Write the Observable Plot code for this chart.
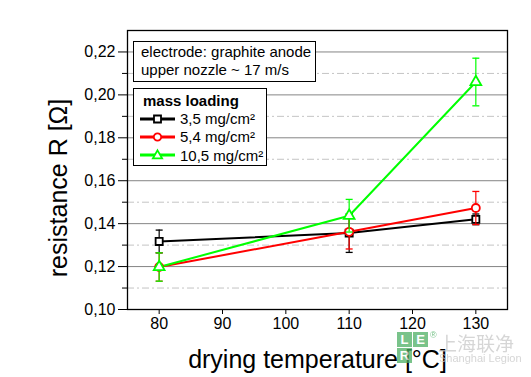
<!DOCTYPE html>
<html><head><meta charset="utf-8">
<script src="https://cdn.jsdelivr.net/npm/d3@7"></script>
<script src="https://cdn.jsdelivr.net/npm/@observablehq/plot@0.6"></script>
<style>
body{margin:0;background:#fff;}
#wrap{position:relative;width:531px;height:377px;font-family:"Liberation Sans",Arial,sans-serif;overflow:hidden;}
#wrap > svg{position:absolute;left:0;top:0;}
.box{position:absolute;background:#fff;border:1.3px solid #000;box-sizing:border-box;font-size:15px;color:#000;}
.row{display:flex;align-items:center;height:18.4px;white-space:nowrap;}
.row svg{flex:none;}
.wm{position:absolute;pointer-events:none;}
</style></head><body><div id="wrap"></div>
<script>
// ---- data ----
const temps = [80, 110, 130];
const seriesNames = ["3,5 mg/cm²", "5,4 mg/cm²", "10,5 mg/cm²"];
const r35  = [0.1317, 0.1356, 0.1420];
const e35  = [0.0053, 0.0090, 0.0025];
const r54  = [0.1198, 0.1362, 0.1473];
const e54  = [0.0066, 0.0080, 0.0077];
const r105 = [0.1198, 0.1437, 0.2060];
const e105 = [0.0066, 0.0076, 0.0111];
const seriesColors = ["#000000", "#ff0000", "#00ff00"];
const seriesSymbols = ["square", "circle", "triangle"];
const xTicks = [80, 90, 100, 110, 120, 130];
const yMajor = [0.10, 0.12, 0.14, 0.16, 0.18, 0.20, 0.22];
const yMinor = [0.11, 0.13, 0.15, 0.17, 0.19, 0.21];
const xLabel = "drying temperature [°C]";
const yLabel = "resistance R [Ω]";
const noteLines = ["electrode: graphite anode", "upper nozzle ~ 17 m/s"];
const legendTitle = "mass loading";

const values = [r35, r54, r105];
const errors = [e35, e54, e105];
const data = [];
values.forEach((vals, s) => vals.forEach((v, i) => data.push({
  series: seriesNames[s], s, t: temps[i], r: v, lo: v - errors[s][i], hi: v + errors[s][i]
})));

const cap = {draw(ctx) { ctx.moveTo(-3.5, 0); ctx.lineTo(3.5, 0); }};
const fmt = d => d.toFixed(2).replace(".", ",");

const marks = [
  Plot.ruleY(yMinor, {stroke: "#c4c4c4", strokeWidth: 1, strokeDasharray: "7,3,2,3"}),
  Plot.ruleY(yMajor.filter(v => v > 0.10), {stroke: "#858585", strokeWidth: 1}),
  Plot.axisY(yMinor, {tickSize: 5, tickFormat: () => "", label: null}),
  Plot.axisY(yMajor, {tickSize: 9, tickPadding: 3, tickFormat: fmt, fontSize: 16, label: null}),
  Plot.axisX(xTicks, {tickSize: 5, tickPadding: 3, fontSize: 16, label: null}),
];
for (let s = 0; s < 3; s++) {
  const d = data.filter(e => e.s === s);
  marks.push(Plot.line(d, {x: "t", y: "r", stroke: seriesColors[s], strokeWidth: 2}));
}
for (let s = 0; s < 3; s++) {
  const d = data.filter(e => e.s === s);
  marks.push(
    Plot.ruleX(d, {x: "t", y1: "lo", y2: "hi", stroke: seriesColors[s], strokeWidth: 1.2}),
    Plot.dot(d, {x: "t", y: "lo", symbol: cap, stroke: seriesColors[s], strokeWidth: 1.3}),
    Plot.dot(d, {x: "t", y: "hi", symbol: cap, stroke: seriesColors[s], strokeWidth: 1.3}),
    Plot.dot(d, {x: "t", y: "r", symbol: seriesSymbols[s], r: 4, fill: "white", stroke: seriesColors[s], strokeWidth: 1.8})
  );
}
marks.push(
  Plot.frame({stroke: "#000", strokeWidth: 1.3}),
  Plot.text([xLabel], {frameAnchor: "bottom", textAnchor: "middle", lineAnchor: "bottom", dy: 58, fontSize: 25, fill: "#000"}),
  Plot.text([yLabel], {frameAnchor: "left", textAnchor: "middle", lineAnchor: "middle", rotate: -90, dx: -69, dy: 18, fontSize: 25, fill: "#000"})
);

const chart = Plot.plot({
  width: 531, height: 377,
  marginLeft: 127, marginRight: 24, marginTop: 30, marginBottom: 68,
  style: {fontFamily: '"Liberation Sans", Arial, sans-serif', color: "#000", background: "white", overflow: "visible"},
  x: {domain: [75, 135]},
  y: {domain: [0.10, 0.23]},
  marks
});
const wrap = document.getElementById("wrap");
wrap.appendChild(chart);

// note box
const b1 = document.createElement("div");
b1.className = "box";
Object.assign(b1.style, {left: "133px", top: "41px", width: "183px", height: "41px", padding: "1px 0 0 7px", lineHeight: "18px"});
b1.innerHTML = noteLines.join("<br>");
wrap.appendChild(b1);

// legend box
const b2 = document.createElement("div");
b2.className = "box";
Object.assign(b2.style, {left: "133px", top: "88px", width: "134px", height: "78px", padding: "2px 0 0 6px"});
let html = `<div class="row" style="font-weight:bold;padding-left:3px">${legendTitle}</div>`;
const symPath = ["M-3.5,-3.5h7v7h-7z", "M3.7,0A3.7,3.7 0 1 1 -3.7,0A3.7,3.7 0 1 1 3.7,0", "M0,-4.6L4.6,3.4H-4.6Z"];
seriesNames.forEach((n, s) => {
  html += `<div class="row"><svg width="35" height="14" style="margin-right:5px"><line x1="0" x2="35" y1="7" y2="7" stroke="${seriesColors[s]}" stroke-width="3"/><path transform="translate(17.5,7)" d="${symPath[s]}" fill="white" stroke="${seriesColors[s]}" stroke-width="1.8"/></svg>${n}</div>`;
});
b2.innerHTML = html;
wrap.appendChild(b2);

// watermark
const wm = document.createElement("div");
wm.className = "wm";
Object.assign(wm.style, {left: "397px", top: "332px", opacity: "0.75"});
const cells = [["L", 0, 0], ["E", 16, 0], ["R", 0, 16]];
wm.innerHTML = cells.map(([c, x, y]) => `<div style="position:absolute;left:${x}px;top:${y}px;width:15px;height:15px;background:#4caf63;color:#fff;font:bold 13px 'Liberation Sans',Arial;text-align:center;line-height:15px">${c}</div>`).join("")
  + `<div style="position:absolute;left:33px;top:-2px;color:#4caf63;font:9px/10px 'Liberation Sans',Arial">®</div>`
  + `<div style="position:absolute;left:41px;top:2px;color:#c8c8c8;font:19px/18px 'Noto Sans CJK SC';white-space:nowrap">上海联净</div>`
  + `<div style="position:absolute;left:42px;top:20px;color:#c8c8c8;font:11px/12px 'Liberation Sans',Arial;white-space:nowrap">Shanghai Legion</div>`;
wrap.appendChild(wm);
</script></body></html>
